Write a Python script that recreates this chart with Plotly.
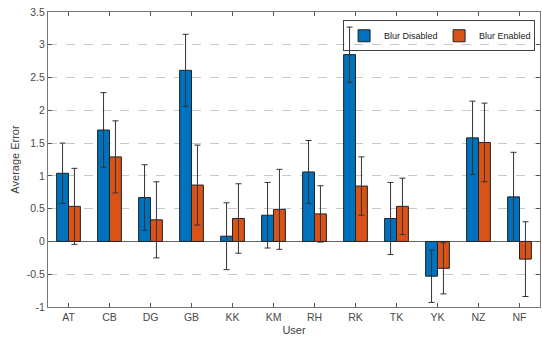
import plotly.graph_objects as go

users = ["AT", "CB", "DG", "GB", "KK", "KM", "RH", "RK", "TK", "YK", "NZ", "NF"]
blur_disabled = [1.04, 1.70, 0.67, 2.61, 0.08, 0.40, 1.06, 2.85, 0.35, -0.53, 1.58, 0.68]
blur_disabled_err = [0.46, 0.57, 0.50, 0.55, 0.51, 0.50, 0.48, 0.42, 0.55, 0.40, 0.56, 0.68]
blur_enabled = [0.535, 1.29, 0.33, 0.86, 0.35, 0.49, 0.42, 0.845, 0.535, -0.41, 1.51, -0.27]
blur_enabled_err = [0.58, 0.55, 0.58, 0.61, 0.53, 0.61, 0.43, 0.445, 0.43, 0.39, 0.60, 0.57]
y_ticks = [-1, -0.5, 0, 0.5, 1, 1.5, 2, 2.5, 3, 3.5]
y_tick_labels = ["-1", "-0.5", "0", "0.5", "1", "1.5", "2", "2.5", "3", "3.5"]

x_pos = list(range(1, len(users) + 1))
font_family = "Liberation Sans"

fig = go.Figure()
fig.add_trace(go.Bar(
    x=x_pos, y=blur_disabled, name="Blur Disabled",
    marker=dict(color="#0072BD", line=dict(color="#222222", width=1)),
    error_y=dict(type="data", array=blur_disabled_err, color="#333333", thickness=1, width=3),
))
fig.add_trace(go.Bar(
    x=x_pos, y=blur_enabled, name="Blur Enabled",
    marker=dict(color="#D95319", line=dict(color="#222222", width=1)),
    error_y=dict(type="data", array=blur_enabled_err, color="#333333", thickness=1, width=3),
))

fig.update_layout(
    width=542, height=337,
    margin=dict(l=48, r=2, t=12, b=30, autoexpand=False),
    paper_bgcolor="white", plot_bgcolor="white",
    barmode="group", bargap=0.42, bargroupgap=0,
    font=dict(family=font_family, size=10.5, color="#4a4a4a"),
    showlegend=True,
    legend=dict(
        orientation="h", x=0.99, xanchor="right", y=0.972, yanchor="top",
        bgcolor="rgba(255,255,255,0)", bordercolor="#404040", borderwidth=1,
        font=dict(size=9, color="#222222"),
        itemwidth=30, tracegroupgap=0, entrywidth=50, entrywidthmode="pixels",
    ),
    xaxis=dict(
        range=[0.5, 12.5], tickmode="array", tickvals=x_pos, ticktext=users,
        ticks="inside", ticklen=4, tickcolor="#555555",
        showline=True, linecolor="#777777", linewidth=1, mirror="ticks",
        showgrid=False, zeroline=False, automargin=False,
        title=dict(text="User", font=dict(size=11, color="#404040"), standoff=4),
    ),
    yaxis=dict(
        range=[-1, 3.5], tickmode="array", tickvals=y_ticks, ticktext=y_tick_labels,
        ticks="inside", ticklen=4, tickcolor="#555555",
        showline=True, linecolor="#777777", linewidth=1, mirror="ticks",
        showgrid=True, gridcolor="#c8c8c8", griddash="dash", gridwidth=1,
        zeroline=True, zerolinecolor="#666666", zerolinewidth=1, automargin=False,
        title=dict(text="Average Error", font=dict(size=11, color="#404040"), standoff=4),
    ),
)

fig.write_html(
    "out.html",
    config={"displayModeBar": False},
    post_script="document.body.style.margin='0';document.body.style.overflow='hidden';",
)
